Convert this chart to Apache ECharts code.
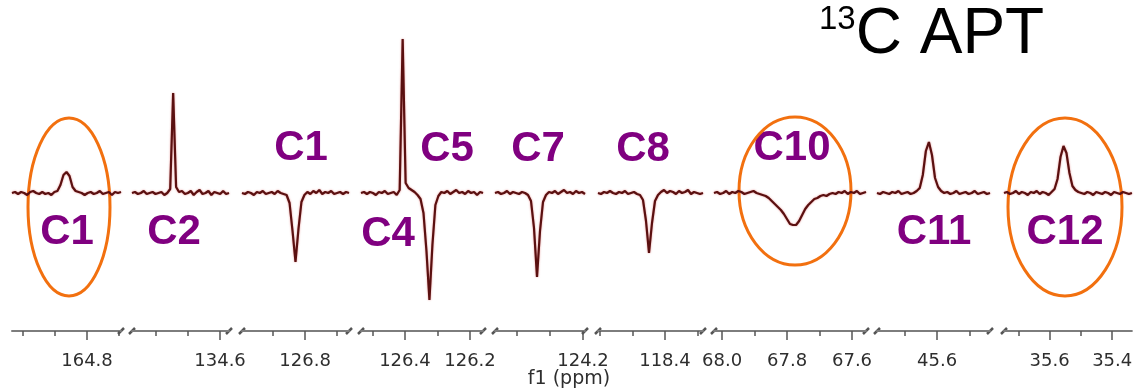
<!DOCTYPE html>
<html>
<head>
<meta charset="utf-8">
<script src="https://cdn.jsdelivr.net/npm/echarts@6/dist/echarts.min.js"></script>
<style>
  html, body { margin: 0; padding: 0; background: #ffffff; }
  #chart { width: 1136px; height: 392px; }
</style>
</head>
<body>
<div id="chart"></div>
<script>
// ---- data --------------------------------------------------------------
// ppm window of each spectral slice: [left edge, right edge] (ppm falls to the right)
const segmentPpm = [
  [165.034, 164.694],
  [134.875, 134.572],
  [126.997, 126.663],
  [126.535, 126.160],
  [124.467, 124.194],
  [118.606, 118.283],
  [68.025, 67.557],
  [45.785, 45.437],
  [35.746, 35.337]
];

// labelled (long) ticks and unlabelled (short) ticks of each slice, in ppm
const labelTicks = [
  [164.8], [134.6], [126.8], [126.4, 126.2], [124.2], [118.4],
  [68.0, 67.8, 67.6], [45.6], [35.6, 35.4]
];
const minorTicks = [
  [165.0, 164.9, 164.7], [134.8, 134.7], [126.9, 126.7], [126.5, 126.3],
  [124.4, 124.3], [118.6, 118.5, 118.3], [67.9, 67.7], [45.7, 45.5], [35.7, 35.5]
];

// APT intensities, sampled evenly across each slice (positive = up, negative = inverted)
const slice1 = [0, 1, -1, 1, 0, -2, 1, 2, 0, -1, 1, -1, 0, -2, 1, 2, 8, 18, 21, 17, 6, 2, 1, 0, -2, 0, 1, -1, 0, 2, -1, 0, 1, -2, 1, 0, 1];
const slice2 = [0, 1, -1, 0, 2, -1, 0, 1, -1, 0, 1, -2, 0, 4, 100, 6, 1, 2, -1, 0, 2, -2, 1, 3, -1, 0, 2, -2, 1, 0, -1, 2, -1, 0];
const slice3 = [0, -1, 1, 0, -2, 1, 0, 2, -1, 0, 1, -1, 2, 0, -1, -2, -10, -38, -69, -36, -9, -2, 1, -1, 2, 0, 3, -1, 1, 0, 2, -1, 0, 1, -1, 1, 0];
const slice4 = [0, 1, -1, 1, 0, -2, 1, 0, 2, -1, 0, 1, -2, 3, 154, 10, 5, 3, 1, -2, -6, -20, -58, -107, -52, -12, -3, 1, 0, 2, -1, 1, 3, 0, 1, -1, 2, 0, 1, -2, 1, 0];
const slice5 = [0, 1, -1, 0, 2, -1, 1, 0, -1, 1, 0, -2, -8, -35, -84, -38, -9, -2, 1, 0, 2, -1, 1, 3, 0, 1, -1, 2, 0, 1, -1];
const slice6 = [0, -1, 1, 0, 2, 0, -1, 1, 0, 2, -1, 0, 1, -1, -2, -7, -28, -60, -30, -8, -2, 1, 3, 0, 2, 1, -1, 2, 0, 1, 3, -1, 1, 0, -1, 0];
const slice7 = [0, 1, -1, 0, 2, -1, 1, 0, 2, 1, -1, 0, 1, 2, 0, -1, -2, -3, -5, -8, -11, -14, -17, -21, -26, -31, -32, -32, -28, -22, -16, -12, -9, -6, -5, -3, -2, -3, -1, 0, -1, 1, 0, 2, -1, 1, 0, 2, -1, 0, 1];
const slice8 = [0, -1, 1, 0, -1, 1, 0, 2, -1, 0, 1, -1, 0, 2, 5, 18, 42, 51, 38, 15, 6, 2, 0, 1, -1, 0, 2, -1, 0, 1, -1, 0, 2, -1, 0, 1, -1, 0];
const slice9 = [0, 1, -1, 0, 2, -1, 1, 0, -2, 1, 0, 2, -1, 1, 0, -2, 1, 4, 14, 36, 47, 40, 20, 7, 3, 1, 0, -1, 1, 0, -2, 1, 0, -1, 1, 0, -2, 1, 0, -1, 1, 0, -1, 0];
const slices = [slice1, slice2, slice3, slice4, slice5, slice6, slice7, slice8, slice9];

// carbon assignments written beside the signals
const peakLabels = ['C1', 'C2', 'C1', 'C4', 'C5', 'C7', 'C8', 'C10', 'C11', 'C12'];

// ---- layout --------------------------------------------------------------
const slicePx = [
  [12, 121], [132, 229], [242, 349], [361, 483], [495, 585],
  [598, 703], [714, 866], [877, 990], [1004, 1133]
];
const plotTop = 33, plotHeight = 270;          // intensity -110..160
const axisOffset = 28;
const peakLabelPos = [
  [67, 232], [174, 232], [301, 148], [388, 234], [447, 149],
  [538, 149], [643, 149], [792, 148], [934, 232], [1065, 232]
];
const rings = [
  { cx: 69, cy: 207, rx: 41, ry: 89 },
  { cx: 795, cy: 191, rx: 56, ry: 74 },
  { cx: 1065, cy: 207, rx: 57, ry: 89 }
];

const tickFont = 'DejaVu Sans';
const axisGray = '#7d7d7d';

const grids = [], xAxes = [], yAxes = [], series = [], graphics = [];

slicePx.forEach(([l, r], i) => {
  const [ppmL, ppmR] = segmentPpm[i];
  grids.push({ left: l, width: r - l, top: plotTop, height: plotHeight, containLabel: false });

  // long, labelled ticks and the axis line
  xAxes.push({
    gridIndex: i, type: 'value', position: 'bottom', inverse: true, min: ppmR, max: ppmL, offset: axisOffset,
    axisLine: { show: true, onZero: false, lineStyle: { color: axisGray, width: 2 } },
    axisTick: { show: true, customValues: labelTicks[i], length: 9, lineStyle: { color: '#555', width: 1.5 } },
    axisLabel: {
      show: true, customValues: labelTicks[i], formatter: v => Number(v).toFixed(1),
      fontFamily: tickFont, fontSize: 18, color: '#2e2e2e', margin: 21
    },
    splitLine: { show: false }
  });
  // short, unlabelled ticks
  xAxes.push({
    gridIndex: i, type: 'value', position: 'bottom', inverse: true, min: ppmR, max: ppmL, offset: axisOffset,
    axisLine: { show: false, onZero: false },
    axisTick: { show: true, customValues: minorTicks[i], length: 5, lineStyle: { color: '#555', width: 1.5 } },
    axisLabel: { show: false },
    splitLine: { show: false }
  });
  yAxes.push({ gridIndex: i, type: 'value', min: -110, max: 160, show: false });

  const vals = slices[i];
  const n = vals.length;
  series.push({
    type: 'line',
    xAxisIndex: 2 * i,
    yAxisIndex: i,
    showSymbol: false,
    silent: true,
    lineStyle: { color: '#5a1010', width: 2.2, shadowColor: 'rgba(205,50,50,0.55)', shadowBlur: 2 },
    data: vals.map((v, k) => [ppmL + (ppmR - ppmL) * k / (n - 1), v])
  });

  // axis-break slashes at both ends of the interior slices
  const axisY = plotTop + plotHeight + axisOffset;
  const slash = x => ({
    type: 'line', silent: true,
    shape: { x1: x - 3, y1: axisY + 3, x2: x + 3, y2: axisY - 3 },
    style: { stroke: '#555', lineWidth: 2.5 }
  });
  if (i > 0) graphics.push(slash(l));
  if (i < slicePx.length - 1) graphics.push(slash(r));
});

peakLabels.forEach((t, i) => {
  graphics.push({
    type: 'text', silent: true, x: peakLabelPos[i][0], y: peakLabelPos[i][1],
    style: {
      text: t, fill: '#800080', font: 'bold 42px "Liberation Sans", Arial, sans-serif',
      align: 'center', verticalAlign: 'middle'
    }
  });
});

rings.forEach(r => {
  graphics.push({
    type: 'ellipse', silent: true, shape: r,
    style: { fill: 'none', stroke: '#f2700f', lineWidth: 3 }
  });
});

graphics.push({
  type: 'text', silent: true, x: 569, y: 379,
  style: { text: 'f1 (ppm)', fill: '#2e2e2e', font: '19px "DejaVu Sans"', align: 'center', verticalAlign: 'middle' }
});

graphics.push({
  type: 'text', silent: true, x: 819, y: 67,
  style: {
    text: '{sup|13}{main|C APT}',
    verticalAlign: 'bottom',
    rich: {
      sup: { font: '33px "Liberation Sans", Arial, sans-serif', fill: '#000', verticalAlign: 'top', padding: [0, 0, 28, 0] },
      main: { font: '64px "Liberation Sans", Arial, sans-serif', fill: '#000' }
    }
  }
});

const chart = echarts.init(document.getElementById('chart'), null, { renderer: 'canvas' });
chart.setOption({
  animation: false,
  backgroundColor: '#ffffff',
  grid: grids,
  xAxis: xAxes,
  yAxis: yAxes,
  series: series,
  graphic: graphics
});
</script>
</body>
</html>
